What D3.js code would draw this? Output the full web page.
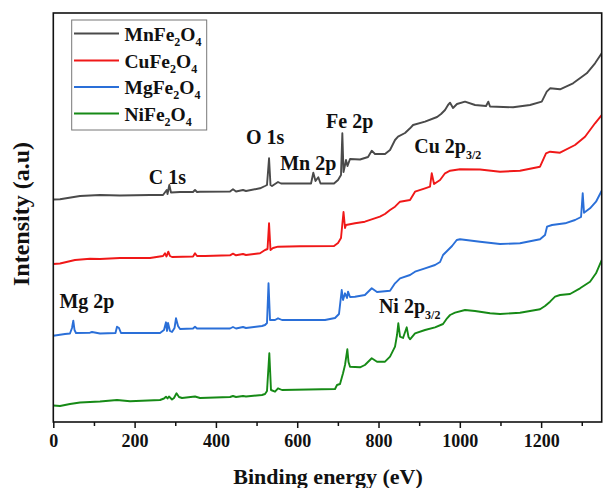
<!DOCTYPE html>
<html>
<head>
<meta charset="utf-8">
<script src="https://cdn.jsdelivr.net/npm/d3@7"></script>
<style>
  html, body { margin: 0; padding: 0; background: #fff; }
  svg { display: block; }
  text { font-family: "Liberation Serif", "Times New Roman", serif; font-weight: bold; fill: #111; }
</style>
</head>
<body>
<svg id="chart" width="603" height="488"></svg>
<script>
// ---------- DATA (binding energy eV, intensity a.u.) ----------
const xTicks = [0, 200, 400, 600, 800, 1000, 1200];
const xMinorTicks = [100, 300, 500, 700, 900, 1100, 1300];
const seriesNames = ["MnFe2O4", "CuFe2O4", "MgFe2O4", "NiFe2O4"];
const seriesColors = ["#4a4a4a", "#f01818", "#2a6fd8", "#168a16"];

const mnFe2O4 = [[0,222.5],[16.5,222.7],[65.7,226],[114.9,227],[164,226.5],[237.9,227],[269.9,227],[279,232],[281,228],[285.4,237],[289.5,229.5],[311.7,230],[343.7,230],[348.6,232],[353.5,230],[360.9,230.3],[434.7,230.5],[442,232.7],[449.5,230.5],[466.7,232],[474,231],[508.5,233.7],[520.8,236],[525.7,237],[530.7,263.7],[534.3,237],[538,236],[552.8,240],[560.1,238.5],[606.9,238.5],[634,238.5],[639.6,249.3],[645,241],[651.9,244.7],[657.3,238.5],[690.5,238.5],[700.4,242],[707.7,247],[711,288.7],[713.9,250],[717.6,257],[720,262],[723.7,256],[729.9,263],[754.5,262.5],[774.2,265],[783.3,271.3],[791.4,268],[816,268],[828.3,272],[840.6,282],[848,285.3],[865.2,289],[877.5,293.7],[885,297],[914.4,300.3],[944,305],[953.8,308],[963.6,312],[971,317],[976,319.3],[983.3,314],[993,318],[1012.8,320.3],[1037.4,317],[1064.5,316],[1070,320.3],[1074.3,315.5],[1131,314.7],[1172.7,317],[1201.5,320.3],[1213.8,330.3],[1222,333.7],[1246.5,332.7],[1278.5,338.7],[1312.2,348.7],[1332.6,358.7],[1349,368.7]];

const cuFe2O4 = [[0,158],[16.5,158.5],[53.4,162],[90.3,163.3],[114.9,163],[164,164],[237.9,164],[269.9,166],[274.8,168.7],[278.5,165.5],[282.9,170.3],[287,166],[292,165],[343.7,165.5],[348.6,168.7],[353.5,166],[373.2,166],[434.7,166.7],[442,168.3],[449.5,166.7],[466.7,168],[474,167],[508.5,168.7],[520.8,172],[527,173],[530.7,198.7],[534.3,172],[540.5,174],[552.8,175.3],[606.9,175.7],[690.5,176],[700.4,179],[707.7,184],[713.9,210],[717.6,194],[720,197],[742.1,198.7],[766.5,200.3],[803.4,205.3],[815.8,208],[828.3,212],[840.6,215.3],[852.9,220.3],[877.5,222],[889.8,230.3],[914.4,233.7],[926.7,235.3],[930.9,248.7],[936.6,238],[951.4,242],[963.6,248.7],[976,251.3],[1000.5,252.7],[1049.7,252.5],[1098.9,250.3],[1148,251.3],[1197.3,255.3],[1212,268.7],[1222,270.3],[1246.5,269.3],[1283.4,277],[1308,285.3],[1332.6,298.7],[1349,307]];

const mgFe2O4 = [[0,86.3],[28.8,88],[41,88.5],[46,94],[49.2,101.3],[52.2,92],[55.8,89],[90.3,89.3],[95.2,90],[114.9,88.5],[153,89],[156.7,95.3],[161.6,94],[166.5,89],[262.5,89],[272.3,92],[277.2,99.7],[279.7,91],[282.2,99],[287,91],[292,90],[298.2,94],[301.8,103.7],[306.8,96],[311.7,93],[343.7,93.5],[348.6,95.3],[353.5,93.5],[434.7,93.5],[442,95],[449.5,93.5],[466.7,95],[474,94],[513.4,96],[520.8,97],[525.7,99],[529.4,138.7],[533.1,102],[545.4,102],[552.8,103.7],[562.6,102],[668.4,102],[693,104],[702.8,108],[709.5,132],[712.7,122],[717.6,128.7],[722.5,124],[725,130.3],[729.9,125],[742.1,125.3],[766.5,127],[783.3,133.7],[796.3,130],[828.3,131.3],[840.6,138.7],[852.9,143.7],[877.5,147],[889.8,150.3],[914.4,153.7],[939,157],[951.4,160],[958.7,167],[968.6,171],[980.9,176],[992.4,182],[1000.5,182.7],[1049.7,180.3],[1098.9,178],[1148,178.7],[1197.3,182.7],[1209.6,187],[1214.5,195.3],[1226.8,197],[1258.8,198.7],[1283.4,202],[1298.2,205],[1302.3,228.7],[1305.5,209.3],[1320.3,213.7],[1335,220.3],[1349,231.3]];

const niFe2O4 = [[0,16.5],[16.5,16],[41,18],[65.7,19.5],[114.9,20.5],[156.7,22],[188.7,20.7],[262.5,22],[272.3,23.5],[277.2,25.3],[281,23.5],[284.6,25.5],[292,22.5],[296.9,24],[303.1,28.7],[309.2,25],[316.6,24],[348.6,25.5],[360.9,24],[434.7,25],[442,26],[449.5,25],[466.7,26],[474,25.5],[513.4,27],[520.8,28],[525.7,31],[531.4,68.7],[535.5,32],[545.4,30.3],[552.8,33.7],[562.6,32],[693,33],[697.9,37],[705.3,38],[712.7,48.7],[717.6,57],[723.3,72.7],[726.2,60],[729.9,55.3],[754.5,54.7],[766.5,57],[783.3,63.7],[796.3,60.3],[816,60.3],[828.3,65.3],[840.6,75.3],[845.5,87],[848.7,98.7],[852.9,85.3],[860.3,84],[869.4,94.7],[873.8,85],[877.5,82.7],[889.8,88.7],[914.4,92],[939,94.7],[958.7,98],[968.6,103.7],[976,107],[988.2,109.3],[1012.8,112],[1037.4,111],[1074.3,108.7],[1098.9,108],[1148,109.3],[1197.3,112.7],[1209.6,116],[1222,120.3],[1234.3,125.3],[1246.5,127],[1271.1,128],[1295.7,133.7],[1320.3,140.3],[1335,148.7],[1349,162]];

// peak annotations: label, subscript, energy, intensity
const peakLabels = [
  ["C 1s", "", 235, 238],
  ["O 1s", "", 474, 278.5],
  ["Mn 2p", "", 558, 252],
  ["Fe 2p", "", 671, 294.3],
  ["Cu 2p", "3/2", 888, 269.3],
  ["Mg 2p", "", 15, 113.7],
  ["Ni 2p", "3/2", 801, 109.3]
];

// ---------- LAYOUT ----------
const svg = d3.select("#chart");
const plot = { left: 53.3, right: 601.7, top: 13, bottom: 422 };

const x = d3.scaleLinear().domain([0, 1349]).range([plot.left, plot.right]);
const y = d3.scaleLinear().domain([0, 409]).range([plot.bottom, plot.top]);

// series lines
const allSeries = [mnFe2O4, cuFe2O4, mgFe2O4, niFe2O4];
const line = d3.line().x(d => x(d[0])).y(d => y(d[1]));
svg.append("clipPath").attr("id", "clip").append("rect")
  .attr("x", plot.left).attr("y", plot.top)
  .attr("width", plot.right - plot.left).attr("height", plot.bottom - plot.top);
const gLines = svg.append("g").attr("clip-path", "url(#clip)");
allSeries.forEach((s, i) => {
  gLines.append("path").datum(s)
    .attr("d", line)
    .attr("fill", "none")
    .attr("stroke", seriesColors[i])
    .attr("stroke-width", 1.9)
    .attr("stroke-linejoin", "round");
});

// frame
svg.append("rect")
  .attr("x", plot.left).attr("y", plot.top)
  .attr("width", plot.right - plot.left).attr("height", plot.bottom - plot.top)
  .attr("fill", "none").attr("stroke", "#111").attr("stroke-width", 1.6);

// x axis
const xAxis = d3.axisBottom(x).tickValues(xTicks).tickSize(6).tickPadding(6).tickFormat(d3.format("d"));
const gx = svg.append("g").attr("transform", `translate(0,${plot.bottom})`).call(xAxis);
gx.select(".domain").remove();
gx.selectAll(".tick line").attr("stroke", "#111").attr("stroke-width", 1.5);
gx.selectAll(".tick text")
  .attr("font-size", 18).attr("font-family", "Liberation Serif, serif")
  .attr("font-weight", "bold").attr("fill", "#111");
const xMinor = d3.axisBottom(x).tickValues(xMinorTicks).tickSize(4).tickFormat("");
const gxm = svg.append("g").attr("transform", `translate(0,${plot.bottom})`).call(xMinor);
gxm.select(".domain").remove();
gxm.selectAll(".tick line").attr("stroke", "#111").attr("stroke-width", 1.5);

// axis titles
svg.append("text")
  .attr("x", 328).attr("y", 484)
  .attr("text-anchor", "middle").attr("font-size", 22)
  .text("Binding energy (eV)");
svg.append("text")
  .attr("transform", `translate(29,214) rotate(-90)`)
  .attr("text-anchor", "middle").attr("font-size", 24)
  .text("Intensity (a.u)");

// peak labels
peakLabels.forEach(([lab, sub, e, v]) => {
  const t = svg.append("text")
    .attr("x", x(e)).attr("y", y(v))
    .attr("font-size", 20);
  t.append("tspan").text(lab);
  if (sub) {
    t.append("tspan").attr("font-size", 12).attr("dy", 6).text(sub);
  }
});

// legend
const lg = svg.append("g");
lg.append("rect")
  .attr("x", 71.7).attr("y", 20).attr("width", 135).attr("height", 110)
  .attr("fill", "#fff").attr("stroke", "#777").attr("stroke-width", 1);
const legendRowsY = [33.5, 60.5, 87, 113.5];
seriesNames.forEach((name, i) => {
  const yy = legendRowsY[i];
  lg.append("line")
    .attr("x1", 74).attr("x2", 119).attr("y1", yy).attr("y2", yy)
    .attr("stroke", seriesColors[i]).attr("stroke-width", 2);
  const t = lg.append("text").attr("x", 124.5).attr("y", yy + 7.2).attr("font-size", 19.5);
  const m = name.match(/^([A-Za-z]+)2O4$/);
  t.append("tspan").text(m[1]);
  t.append("tspan").attr("font-size", 12).attr("dy", 5).text("2");
  t.append("tspan").attr("dy", -5).text("O");
  t.append("tspan").attr("font-size", 12).attr("dy", 5).text("4");
});
</script>
</body>
</html>
